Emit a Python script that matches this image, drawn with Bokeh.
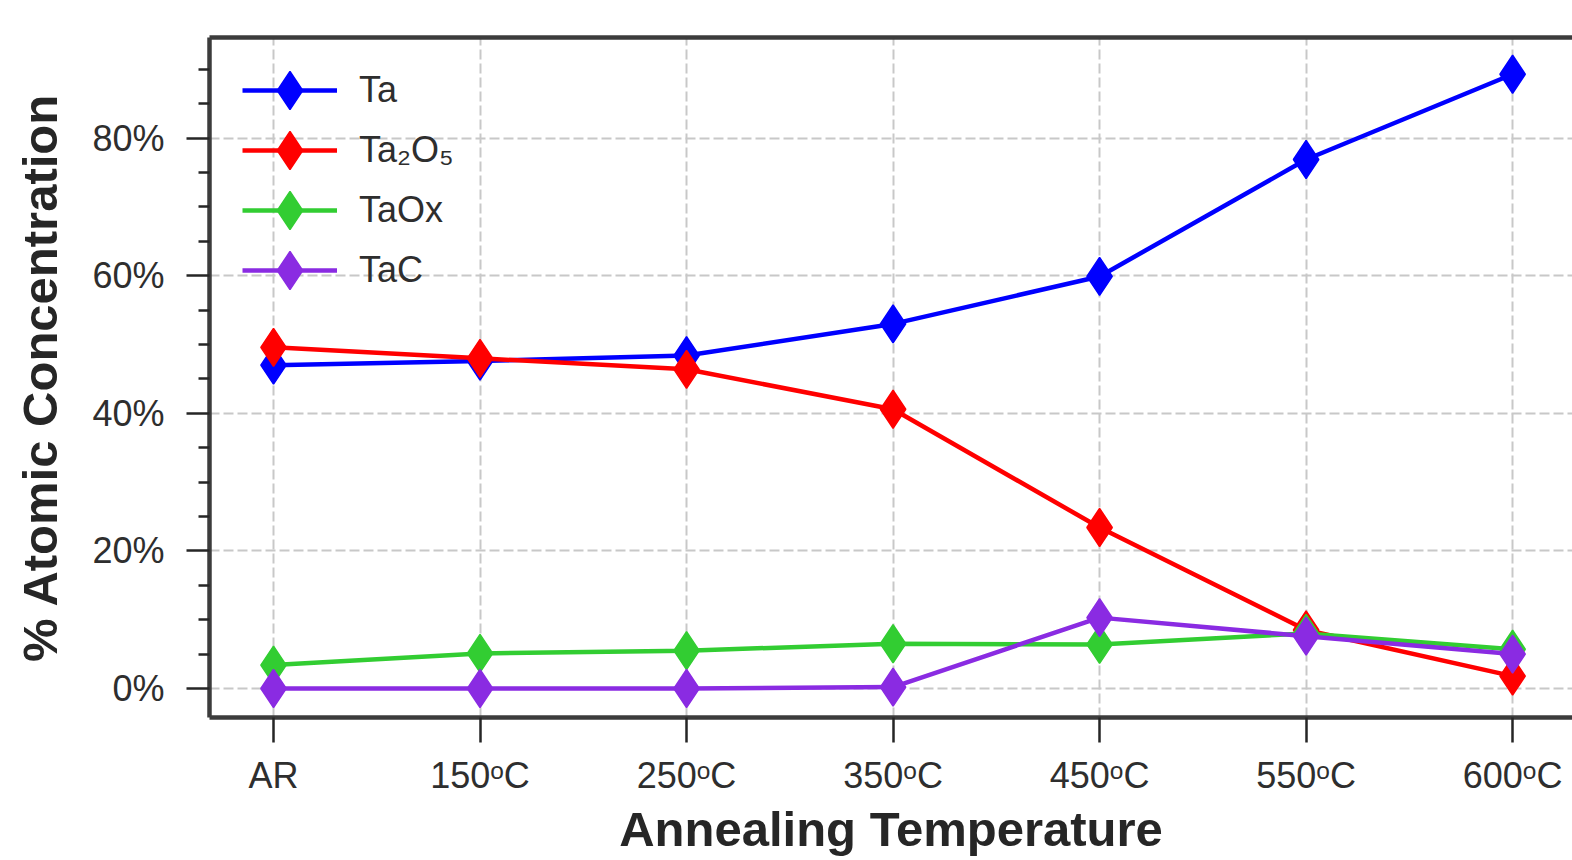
from bokeh.plotting import figure
from bokeh.models import (Range1d, FixedTicker, LinearAxis, Legend, LegendItem,
                          PrintfTickFormatter, ColumnDataSource)
from bokeh.embed import file_html
from bokeh.resources import INLINE

# ---- data ----
categories = ["AR", "150ᵒC", "250ᵒC", "350ᵒC", "450ᵒC", "550ᵒC", "600ᵒC"]
ta = [47.0, 47.6, 48.4, 53.0, 59.9, 76.9, 89.3]
ta2o5 = [49.6, 48.0, 46.4, 40.6, 23.4, 8.5, 1.8]
taox = [3.4, 5.1, 5.5, 6.5, 6.4, 8.0, 5.7]
tac = [0.0, 0.0, 0.0, 0.2, 10.3, 7.6, 5.0]
series_names = ["Ta", "Ta₂O₅", "TaOx", "TaC"]
series_colors = ["#0000ff", "#ff0000", "#32cd32", "#8a2be2"]
y_major = [0, 20, 40, 60, 80]

FONT = "Liberation Sans"
TXT = "#2e2e2e"
SPINE = "#3c3c3c"

W, H = 1572, 860
FL, FT, FB = 209, 37, 143          # frame borders (left, top, bottom)
FRAME_H = H - FT - FB

x_idx = list(range(len(categories)))
src = ColumnDataSource(dict(x=x_idx, Ta=ta, Ta2O5=ta2o5, TaOx=taox, TaC=tac))
cols = ["Ta", "Ta2O5", "TaOx", "TaC"]

p = figure(width=W, height=H, output_backend="svg", toolbar_location=None,
           x_range=Range1d(-0.31, 6.29), y_range=Range1d(-4.22, 94.64),
           min_border_left=FL, min_border_right=0, min_border_top=FT,
           min_border_bottom=FB)
p.outline_line_color = None
p.background_fill_color = "white"
p.border_fill_color = "white"

# grid
for g in (p.xgrid, p.ygrid):
    g.grid_line_color = "#c8c8c8"
    g.grid_line_width = 2
    g.grid_line_dash = "10 4"

# axes
xa = p.xaxis[0]
xa.ticker = FixedTicker(ticks=x_idx, minor_ticks=[])
xa.major_label_overrides = {i: c for i, c in enumerate(categories)}
xa.axis_label = "Annealing Temperature"
ya = p.yaxis[0]
ya.ticker = FixedTicker(ticks=y_major,
                        minor_ticks=[v for v in range(0, 95, 5) if v % 20])
ya.formatter = PrintfTickFormatter(format="%d%%")
ya.axis_label = "% Atomic Concentration"

for ax in (xa, ya):
    ax.axis_line_color = SPINE
    ax.axis_line_width = 4.5
    ax.major_tick_line_color = "#262626"
    ax.minor_tick_line_color = "#262626"
    ax.major_tick_line_width = 2.5
    ax.minor_tick_line_width = 2.5
    ax.major_tick_in = 0
    ax.minor_tick_in = 0
    ax.major_label_text_font = FONT
    ax.major_label_text_font_size = "36px"
    ax.major_label_text_color = TXT
    ax.axis_label_text_font = FONT
    ax.axis_label_text_font_size = "49px"
    ax.axis_label_text_font_style = "bold"
    ax.axis_label_text_color = "#262626"

xa.major_tick_out = 25
xa.major_label_standoff = 12
xa.axis_label_standoff = 3
ya.major_tick_out = 23
ya.minor_tick_out = 11
ya.major_label_standoff = 22
ya.axis_label_standoff = 22

top = LinearAxis(ticker=FixedTicker(ticks=[], minor_ticks=[]),
                 major_label_text_font_size="0px",
                 major_tick_line_color=None, minor_tick_line_color=None,
                 axis_line_color=SPINE, axis_line_width=4.5)
p.add_layout(top, "above")

# series + one legend box per row (keeps big legend markers with tight rows)
GLYPH_H, ROW0, ROW_PITCH = 100, 53, 60
for i, (col, name, color) in enumerate(zip(cols, series_names, series_colors)):
    l = p.line("x", col, source=src, line_color=color, line_width=4.5)
    s = p.scatter("x", col, source=src, marker="diamond", size=38,
                  fill_color=color, line_color=color, line_width=1.5)
    bottom = FRAME_H - (ROW0 + ROW_PITCH * i + GLYPH_H // 2)
    lg = Legend(items=[LegendItem(label=name, renderers=[l, s])],
                location=(33, bottom), glyph_width=95, glyph_height=GLYPH_H,
                padding=0, margin=0, spacing=0, label_standoff=22,
                border_line_color=None, background_fill_alpha=0,
                label_text_font=FONT, label_text_font_size="36px",
                label_text_color=TXT)
    p.add_layout(lg)

open("out.html", "w").write(file_html(p, INLINE))
